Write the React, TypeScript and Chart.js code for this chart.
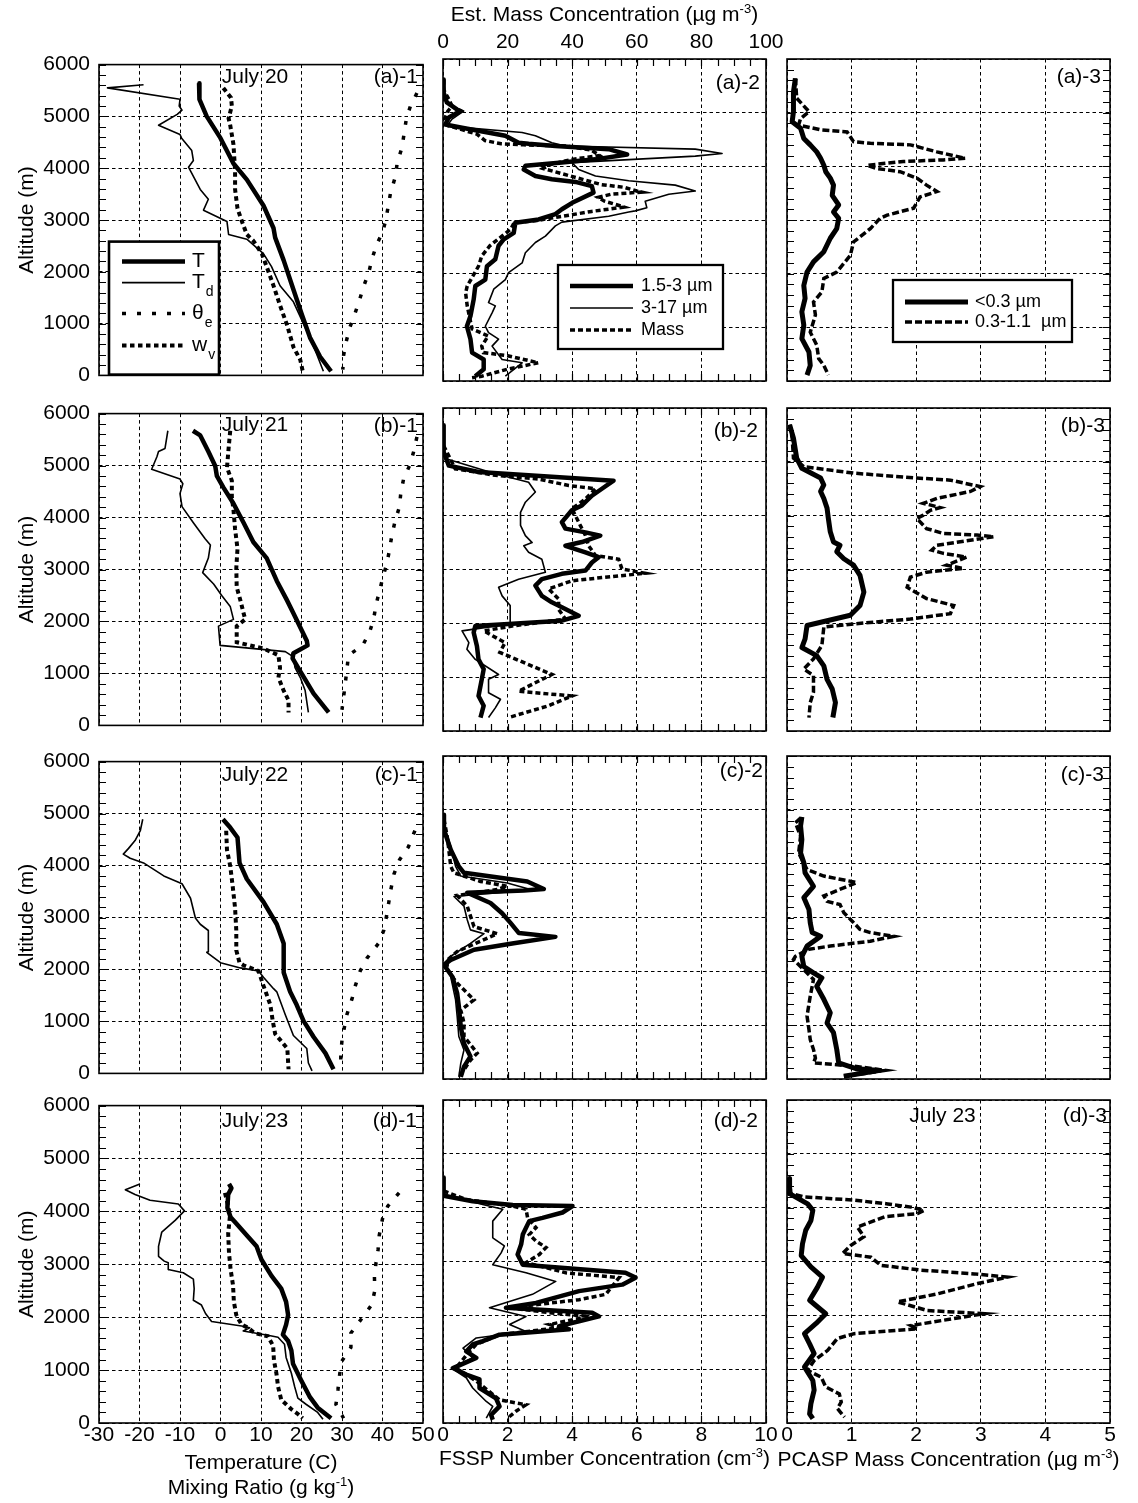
import React, { useEffect, useRef } from "react";
import { Chart, registerables } from "chart.js";

Chart.register(...registerables);

type Pt = [number, number]; // [altitude (m), value]

// ---------------- Axes ----------------
const ALT_AXIS = { min: 0, max: 6000, step: 1000, minor: 200 };
const MET_AXIS = { min: -30, max: 50, step: 10 };
const FSSP_AXIS = { min: 0, max: 10, step: 2, minor: 0.5 };
const MASS_AXIS = { min: 0, max: 100, step: 20 };
const PCASP_AXIS = { min: 0, max: 5, step: 1 };

// ---------------- July 20 (a) ----------------
const aT: Pt[] = [[5640,-5.3],[5330,-5.2],[5000,-3.4],[4580,0.0],[4090,3.2],[3780,6.5],[3280,10.6],[2840,13.1],[2660,13.5],[2220,15.6],[1660,18.0],[1170,20.1],[730,22.1],[360,24.6],[80,27.3]];
const aTd: Pt[] = [[5610,-19.0],[5550,-27.9],[5330,-10.0],[5200,-10.2],[5120,-9.5],[5040,-10.7],[4830,-15.3],[4650,-10.0],[4580,-9.6],[4340,-7.1],[4150,-6.7],[4020,-7.9],[3590,-5.0],[3400,-3.0],[3190,-4.2],[2970,1.6],[2720,2.0],[2630,6.5],[2350,10.6],[2100,12.6],[1730,14.7],[1420,18.0],[860,21.3],[480,23.4],[80,25.4]];
const aWv: Pt[] = [[5550,0.7],[5360,2.6],[5200,2.8],[4960,2.0],[4830,2.4],[4460,3.2],[3960,3.6],[3590,3.6],[3220,4.2],[2970,5.3],[2720,6.5],[2600,8.1],[2350,10.2],[2100,11.4],[1730,13.1],[1350,14.7],[980,16.4],[550,18.0],[300,19.7],[80,20.3]];
const aThe: Pt[] = [[5450,48.5],[5200,46.9],[4960,45.9],[4650,45.3],[4400,44.8],[4090,43.6],[3840,43.2],[3530,42.0],[3310,41.5],[3030,40.9],[2780,40.1],[2530,38.6],[2250,37.4],[1980,36.6],[1730,35.4],[1450,34.3],[1170,33.1],[920,31.9],[670,31.1],[390,30.4],[110,30.2]];
const aFine: Pt[] = [[5620,0.02],[5370,0.02],[5190,0.12],[5060,0.43],[5030,0.54],[4910,0.18],[4780,0.07],[4720,0.59],[4570,1.93],[4440,2.34],[4420,2.65],[4380,3.48],[4320,5.13],[4220,5.70],[4130,4.72],[4070,3.68],[4010,2.55],[3940,2.50],[3820,2.86],[3760,3.37],[3710,4.10],[3630,4.61],[3510,4.66],[3320,4.00],[3200,3.68],[3110,3.48],[3010,2.96],[2950,2.24],[2760,2.19],[2640,1.88],[2520,1.72],[2270,1.62],[2140,1.36],[1890,1.31],[1770,1.00],[1520,0.95],[1210,0.85],[1020,0.74],[780,0.85],[530,0.90],[400,1.26],[220,1.26],[90,1.00]];
const aCoarse: Pt[] = [[5560,0.02],[5250,0.07],[5120,0.28],[5030,0.64],[4880,0.28],[4750,0.12],[4630,2.45],[4570,2.86],[4440,3.37],[4380,3.79],[4320,7.81],[4240,8.64],[4190,7.81],[4070,3.99],[3940,4.20],[3820,4.72],[3730,5.75],[3650,7.19],[3540,7.81],[3480,6.99],[3350,6.26],[3230,6.31],[3170,5.95],[3150,5.75],[3070,5.13],[2960,3.68],[2890,3.48],[2700,3.17],[2580,2.86],[2390,2.55],[2200,2.45],[2020,2.03],[1890,1.93],[1710,1.57],[1460,1.41],[1400,1.62],[1270,1.52],[1020,1.31],[900,1.41],[780,1.72],[650,1.52],[400,1.83],[340,2.45],[90,1.93]];
const aMass: Pt[] = [[5620,0.2],[5430,0.2],[5250,1.8],[5120,2.8],[5030,1.5],[4880,0.5],[4760,1.5],[4600,10.5],[4480,13.0],[4420,18],[4400,25],[4380,38],[4300,46],[4200,48.5],[4130,40],[4030,33],[3960,31],[3660,49],[3610,56],[3540,60],[3520,61.5],[3480,52],[3420,48],[3350,50],[3280,54],[3240,56],[3160,46],[3050,35],[2990,29],[2950,22],[2830,21],[2640,17],[2520,14.5],[2330,12],[2140,11],[1770,7.5],[1640,7],[1400,7.5],[970,9],[840,14],[650,12],[530,12.5],[470,20],[340,29.5],[220,20],[90,12],[60,9]];
const aSmall: Pt[] = [[5640,0.13],[5390,0.10],[5020,0.10],[4830,0.08],[4710,0.21],[4520,0.26],[4400,0.36],[4270,0.46],[4150,0.52],[4020,0.57],[3900,0.60],[3780,0.67],[3650,0.72],[3460,0.70],[3280,0.80],[3150,0.72],[3030,0.80],[2840,0.77],[2660,0.67],[2410,0.57],[2220,0.41],[2030,0.31],[1780,0.26],[1540,0.28],[1290,0.23],[1040,0.26],[790,0.23],[540,0.34],[290,0.36],[110,0.31]];
const aAcc: Pt[] = [[5640,0.13],[5270,0.15],[5020,0.34],[4890,0.21],[4770,0.18],[4680,0.52],[4640,0.93],[4460,1.03],[4430,1.29],[4400,1.91],[4270,2.32],[4150,2.76],[4120,2.42],[4090,1.80],[4020,1.24],[3960,1.39],[3900,1.75],[3780,2.01],[3650,2.16],[3530,2.32],[3430,2.06],[3220,1.96],[3090,1.55],[3030,1.44],[2840,1.29],[2590,1.03],[2340,0.98],[2030,0.77],[1910,0.57],[1660,0.54],[1470,0.41],[1230,0.44],[910,0.36],[670,0.46],[420,0.49],[290,0.57],[110,0.64]];

// ---------------- July 21 (b) ----------------
const bT: Pt[] = [[5670,-6.8],[5580,-5.0],[5270,-3.0],[4990,-1.3],[4800,-0.9],[4580,0.7],[4270,3.2],[3900,5.7],[3530,8.1],[3220,11.4],[2780,13.9],[2410,16.4],[2160,18.0],[1630,21.3],[1540,21.5],[1390,18.0],[1290,17.8],[1040,19.7],[610,23.0],[250,26.7]];
const bTd: Pt[] = [[5670,-13.0],[5330,-13.7],[5270,-15.3],[5170,-15.7],[4930,-17.0],[4740,-10.0],[4650,-9.3],[4460,-10.0],[4210,-9.5],[3900,-6.7],[3590,-3.8],[3470,-2.5],[3220,-3.0],[2940,-4.4],[2720,-1.7],[2500,0.3],[2290,2.4],[2040,3.2],[1910,-0.5],[1540,-0.1],[1420,16.0],[1320,18.0],[1110,18.4],[920,19.7],[670,20.9],[250,21.7]];
const bWv: Pt[] = [[5670,2.4],[5330,2.0],[4960,1.6],[4710,2.8],[4400,2.8],[4150,3.2],[3780,3.6],[3400,4.2],[3030,3.9],[2660,4.0],[2410,4.9],[2160,5.7],[2040,6.1],[1910,4.0],[1600,4.0],[1480,10.6],[1350,14.3],[1110,14.7],[920,14.3],[670,15.6],[480,16.8],[250,16.8]];
const bThe: Pt[] = [[5550,48.5],[5270,47.7],[5020,46.8],[4740,45.2],[4460,44.5],[4210,44.2],[3930,43.1],[3650,42.3],[3370,41.7],[3120,41.1],[2880,40.2],[2600,39.3],[2320,38.4],[2040,37.8],[1790,36.8],[1540,35.1],[1350,31.6],[1070,31.2],[800,30.8],[550,30.4],[300,30.0]];
const bFine: Pt[] = [[5680,0.02],[5180,0.02],[4930,0.18],[4810,1.10],[4750,2.65],[4650,5.28],[4500,4.92],[4370,4.61],[4190,4.30],[4100,3.99],[3880,3.68],[3760,3.79],[3690,4.41],[3630,4.87],[3510,4.30],[3440,3.79],[3320,4.41],[3230,4.82],[3130,4.61],[2980,4.41],[2920,3.68],[2820,3.06],[2700,2.86],[2510,3.06],[2390,3.37],[2300,3.68],[2140,4.20],[2050,3.68],[1950,1.00],[1830,0.95],[1580,1.05],[1330,1.10],[1150,1.26],[960,1.20],[650,1.10],[470,1.26],[250,1.16]];
const bCoarse: Pt[] = [[5060,0.07],[4780,1.62],[4620,2.65],[4440,2.86],[4250,2.55],[4060,2.40],[3820,2.40],[3630,2.55],[3500,2.76],[3440,2.50],[3320,2.65],[3190,3.06],[2950,3.17],[2820,2.34],[2670,1.72],[2510,1.83],[2330,2.08],[1990,2.08],[1860,0.59],[1640,0.80],[1520,0.74],[1330,1.00],[1050,1.72],[960,1.41],[710,1.41],[590,1.78],[430,1.62],[250,1.41]];
const bMass: Pt[] = [[5300,0.2],[4870,3.8],[4750,16.2],[4680,29.6],[4560,38.9],[4500,47.2],[4310,44.1],[4130,39.9],[3820,42.5],[3630,44.1],[3440,45.1],[3260,47.2],[3190,54.4],[3010,55.4],[2930,62.6],[2850,49.2],[2790,39.9],[2640,32.7],[2450,35.8],[2260,35.8],[2080,37.9],[1950,21.4],[1860,12.6],[1640,19.2],[1460,17.6],[1050,33.7],[740,23.4],[650,39.9],[470,32.7],[250,20.3]];
const bSmall: Pt[] = [[5690,0.04],[5440,0.10],[5070,0.15],[4880,0.23],[4700,0.52],[4570,0.57],[4450,0.52],[4320,0.57],[4140,0.62],[3950,0.64],[3700,0.67],[3510,0.72],[3450,0.82],[3330,0.77],[3200,0.88],[3080,1.03],[2890,1.13],[2580,1.19],[2330,1.13],[2150,0.98],[1960,0.31],[1710,0.28],[1550,0.23],[1400,0.46],[1210,0.57],[960,0.62],[780,0.70],[530,0.75],[250,0.71]];
const bAcc: Pt[] = [[5690,0.04],[5440,0.08],[5070,0.10],[4910,0.26],[4790,1.03],[4700,2.01],[4660,2.53],[4540,2.99],[4450,2.84],[4320,2.32],[4230,2.11],[4150,2.37],[4100,2.22],[4010,2.11],[3950,2.01],[3760,2.16],[3670,2.42],[3640,2.94],[3610,3.20],[3450,2.32],[3360,2.24],[3300,2.42],[3230,2.78],[3080,2.47],[3020,2.73],[2950,2.16],[2860,1.91],[2670,1.86],[2460,2.16],[2330,2.58],[2180,2.53],[2080,1.91],[1990,1.03],[1930,0.57],[1590,0.54],[1340,0.41],[1150,0.26],[1030,0.41],[720,0.41],[530,0.36],[250,0.34]];

// ---------------- July 22 (c) ----------------
const cT: Pt[] = [[4890,0.6],[4730,2.4],[4540,4.2],[4050,4.7],[3740,6.5],[3300,10.6],[2870,13.9],[2500,15.6],[2130,15.6],[1940,15.6],[1570,17.2],[1320,18.8],[1010,20.5],[700,23.0],[390,25.9],[80,27.9]];
const cTd: Pt[] = [[4890,-19.2],[4670,-19.8],[4480,-21.1],[4330,-22.7],[4220,-24.0],[4140,-22.3],[4050,-19.0],[3800,-14.0],[3650,-9.5],[3370,-7.4],[2990,-6.2],[2870,-5.0],[2750,-3.0],[2340,-3.0],[2330,-3.4],[2130,0.0],[2030,4.9],[1970,9.4],[1850,10.6],[1630,13.1],[1570,13.9],[1130,16.0],[730,18.0],[480,21.3],[200,21.7],[50,22.6]];
const cWv: Pt[] = [[4670,1.4],[4300,1.6],[3990,2.4],[3610,3.0],[3180,3.6],[2750,3.9],[2370,3.9],[2130,4.7],[2080,5.7],[1970,9.4],[1690,10.6],[1320,12.3],[1010,12.9],[760,13.5],[610,15.1],[480,16.5],[80,16.8]];
const cThe: Pt[] = [[4670,48.0],[4360,46.4],[4110,44.2],[3830,42.8],[3550,42.1],[3270,41.5],[3030,41.0],[2750,40.3],[2500,39.0],[2220,36.2],[1970,34.5],[1690,33.3],[1440,32.5],[1130,31.2],[890,30.6],[640,30.0],[360,29.7],[80,29.7]];
const cFine: Pt[] = [[4910,0.01],[4630,0.03],[4260,0.24],[3950,0.49],[3830,0.65],[3670,2.61],[3530,3.12],[3500,2.50],[3460,0.75],[3270,1.47],[3080,1.83],[2900,2.09],[2710,2.35],[2640,3.48],[2520,2.19],[2400,0.96],[2210,0.24],[2120,0.03],[1900,0.29],[1590,0.44],[1350,0.49],[970,0.55],[660,0.65],[420,0.85],[230,0.65],[40,0.55]];
const cCoarse: Pt[] = [[4700,0.03],[4320,0.24],[3950,0.39],[3770,0.55],[3640,1.99],[3520,2.71],[3470,1.88],[3390,0.34],[3210,0.65],[2960,0.75],[2770,0.85],[2700,1.27],[2520,0.85],[2280,0.24],[2150,0.03],[1900,0.24],[1470,0.39],[1160,0.44],[790,0.49],[540,0.65],[290,0.55],[40,0.49]];
const cMass: Pt[] = [[4820,0.3],[4510,1.3],[3950,2.4],[3830,3.4],[3670,11.6],[3580,19.9],[3520,16.8],[3410,4.4],[3210,7.5],[2830,9.6],[2700,16.8],[2590,12.7],[2370,4.4],[2210,1.3],[2030,1.3],[1780,4.4],[1470,9.6],[1280,5.5],[1040,6.5],[790,6.5],[480,10.6],[350,8.5],[170,6.5]];
const cSmall: Pt[] = [[4870,0.23],[4700,0.21],[4450,0.23],[4200,0.21],[4020,0.26],[3830,0.28],[3580,0.41],[3370,0.26],[3150,0.34],[2900,0.36],[2720,0.39],[2650,0.52],[2470,0.31],[2280,0.23],[2090,0.26],[1970,0.41],[1880,0.54],[1720,0.46],[1480,0.57],[1230,0.67],[1040,0.62],[860,0.72],[550,0.77],[300,0.80],[190,1.08],[160,1.44],[50,0.88]];
const cAcc: Pt[] = [[4850,0.21],[4760,0.13],[4510,0.21],[4200,0.18],[3890,0.31],[3770,0.57],[3650,1.08],[3400,0.57],[3300,0.62],[3240,0.82],[3090,0.88],[2930,1.01],[2780,1.13],[2720,1.29],[2650,1.65],[2560,1.29],[2470,0.67],[2410,0.34],[2280,0.13],[2220,0.10],[2030,0.26],[1850,0.41],[1540,0.36],[1170,0.31],[920,0.34],[730,0.36],[550,0.41],[390,0.44],[300,0.41],[240,1.03],[160,1.52],[110,1.24],[50,0.88]];

// ---------------- July 23 (d) ----------------
const dT: Pt[] = [[4520,2.1],[4440,2.7],[4320,1.9],[4070,1.7],[3890,2.5],[3770,3.9],[3520,6.8],[3340,8.9],[3090,10.1],[2780,12.6],[2540,15.0],[2290,16.2],[2040,16.7],[1860,16.2],[1670,15.4],[1550,16.7],[1370,17.5],[1120,17.9],[810,19.9],[500,22.0],[290,24.0],[90,27.3]];
const dTd: Pt[] = [[4520,-19.9],[4410,-23.5],[4320,-21.1],[4210,-17.4],[4140,-10.4],[4010,-8.9],[3830,-11.2],[3610,-14.5],[3340,-15.3],[3150,-15.3],[3060,-13.9],[3030,-12.9],[2900,-12.9],[2840,-9.2],[2720,-6.7],[2540,-6.5],[2320,-6.7],[2230,-4.7],[2070,-3.7],[1920,-2.2],[1830,5.6],[1800,7.2],[1740,5.6],[1660,11.7],[1620,14.2],[1490,15.8],[1240,16.2],[940,17.5],[690,18.3],[470,19.1],[350,21.2],[200,24.0],[70,25.3]];
const dWv: Pt[] = [[4350,1.1],[4100,1.9],[3890,2.3],[3580,1.9],[3210,2.1],[2900,2.5],[2600,3.1],[2290,3.3],[2040,3.9],[1860,5.2],[1800,6.8],[1700,8.4],[1640,11.7],[1460,13.0],[1180,13.2],[940,13.8],[690,14.2],[440,15.0],[260,17.5],[170,19.1],[90,20.3]];
const dThe: Pt[] = [[4350,44.1],[4100,41.3],[3860,40.0],[3550,39.2],[3270,38.9],[3030,38.4],[2780,38.0],[2500,38.1],[2230,37.3],[1980,34.9],[1700,32.2],[1430,32.2],[1150,29.8],[900,29.4],[630,29.0],[350,28.5],[90,30.4]];
const dFine: Pt[] = [[4560,0.02],[4220,0.02],[4120,0.92],[4050,2.16],[4030,4.01],[3910,3.70],[3810,3.08],[3750,2.67],[3500,2.47],[3320,2.42],[3130,2.31],[2940,2.47],[2790,5.65],[2700,5.96],[2570,5.55],[2450,4.21],[2230,2.88],[2140,1.95],[2050,4.62],[1980,4.83],[1890,4.21],[1800,3.60],[1740,3.91],[1640,1.75],[1520,1.23],[1460,0.92],[1330,0.72],[1210,1.03],[1020,0.31],[900,0.72],[810,1.13],[650,1.13],[460,1.64],[310,1.75],[150,1.49],[60,1.54]];
const dCoarse: Pt[] = [[4250,0.02],[4060,1.23],[3970,1.85],[3750,1.54],[3440,1.54],[3290,1.90],[3160,1.80],[2940,1.54],[2790,2.57],[2630,3.49],[2390,2.77],[2140,1.44],[1980,2.57],[1830,2.06],[1700,2.57],[1580,1.03],[1390,0.62],[1210,0.92],[1020,0.26],[840,0.72],[650,0.92],[400,1.34],[310,1.54],[90,1.34]];
const dMass: Pt[] = [[4310,0.2],[4150,7.2],[4030,21.6],[3970,25.7],[3810,26.2],[3630,28.8],[3500,26.7],[3380,28.8],[3260,31.9],[3130,29.8],[2980,25.7],[2790,38.0],[2700,54.5],[2390,50.4],[2290,42.1],[2140,20.6],[2050,32.9],[1980,45.2],[1830,32.9],[1770,36.0],[1640,17.5],[1460,10.3],[1330,8.2],[1020,4.0],[780,10.3],[430,17.5],[340,25.7],[220,22.6],[90,20.0]];
const dSmall: Pt[] = [[4540,0.04],[4260,0.04],[4070,0.32],[3950,0.40],[3760,0.37],[3580,0.29],[3330,0.24],[3110,0.22],[2900,0.37],[2710,0.55],[2520,0.47],[2280,0.35],[2030,0.60],[1850,0.45],[1660,0.27],[1470,0.35],[1290,0.42],[1040,0.27],[790,0.40],[610,0.42],[360,0.37],[170,0.35],[80,0.40]];
const dAcc: Pt[] = [[4540,0.04],[4260,0.06],[4200,0.27],[4140,1.04],[4070,1.56],[4010,1.92],[3950,2.12],[3890,2.02],[3830,1.51],[3640,1.09],[3460,1.19],[3300,0.99],[3150,0.86],[3080,1.30],[2930,1.45],[2840,2.07],[2770,2.90],[2710,3.41],[2590,2.95],[2400,2.33],[2250,1.71],[2090,2.17],[2030,3.05],[1910,2.43],[1810,1.92],[1750,2.02],[1660,1.04],[1570,0.78],[1350,0.63],[1160,0.42],[980,0.32],[850,0.53],[670,0.60],[540,0.81],[390,0.84],[270,0.78],[110,0.89]];

// ---------------- styles & layout ----------------
const FONT = '"Liberation Sans", Arial, Helvetica, sans-serif';

type StyleKey = "T" | "Td" | "Wv" | "The" | "Fine" | "Coarse" | "Mass" | "Small" | "Acc";
const STYLES: Record<StyleKey, { width: number; dash: number[] }> = {
  T: { width: 4.5, dash: [] },
  Td: { width: 1.6, dash: [] },
  Wv: { width: 4, dash: [4.5, 3.5] },
  The: { width: 3.5, dash: [4, 11] },
  Fine: { width: 4.5, dash: [] },
  Coarse: { width: 1.6, dash: [] },
  Mass: { width: 3.5, dash: [5, 3] },
  Small: { width: 5, dash: [] },
  Acc: { width: 3.5, dash: [7, 3] },
};

const COLS = [
  { left: 99, width: 324 },
  { left: 443, width: 323 },
  { left: 787, width: 323 },
];
const ROWS = [
  { top: 59, height: 322 },
  { top: 408, height: 323 },
  { top: 756, height: 323 },
  { top: 1100, height: 323 },
];
const PAGE_W = 1138;
const PAGE_H = 1503;

type LegendItem = { style: StyleKey; label: string; sub?: string };
type LegendDef = {
  dx: number; dy: number; w: number; h: number; border: number;
  x1: number; x2: number; tx: number; size: number; rows: number[];
  items: LegendItem[];
};

const LEG_MET: LegendDef = {
  dx: 10, dy: 177, w: 110, h: 133, border: 2.6, x1: 13, x2: 76, tx: 83, size: 21,
  rows: [20, 41, 72, 104],
  items: [
    { style: "T", label: "T" },
    { style: "Td", label: "T", sub: "d" },
    { style: "The", label: "θ", sub: "e" },
    { style: "Wv", label: "w", sub: "v" },
  ],
};
const LEG_FSSP: LegendDef = {
  dx: 115, dy: 206, w: 165, h: 84, border: 2.3, x1: 12, x2: 75, tx: 83, size: 18,
  rows: [21, 43, 65],
  items: [
    { style: "Fine", label: "1.5-3 µm" },
    { style: "Coarse", label: "3-17 µm" },
    { style: "Mass", label: "Mass" },
  ],
};
const LEG_PCASP: LegendDef = {
  dx: 106, dy: 221, w: 179, h: 62, border: 2.3, x1: 12, x2: 75, tx: 82, size: 18,
  rows: [22, 42],
  items: [
    { style: "Small", label: "<0.3 µm" },
    { style: "Acc", label: "0.3-1.1  µm" },
  ],
};

type PanelDef = {
  row: number; col: number; tag: string; tagDx: number; tagDy: number;
  date?: string; dateDy?: number;
  series: [StyleKey, Pt[]][];
  legend?: LegendDef;
};

const PANELS: PanelDef[] = [
  { row: 0, col: 0, tag: "(a)-1", tagDx: 5, tagDy: 13, date: "July 20", dateDy: 13, series: [["Wv", aWv], ["The", aThe], ["Td", aTd], ["T", aT]], legend: LEG_MET },
  { row: 0, col: 1, tag: "(a)-2", tagDx: 6, tagDy: 24, series: [["Mass", aMass], ["Coarse", aCoarse], ["Fine", aFine]], legend: LEG_FSSP },
  { row: 0, col: 2, tag: "(a)-3", tagDx: 9, tagDy: 18, series: [["Acc", aAcc], ["Small", aSmall]], legend: LEG_PCASP },
  { row: 1, col: 0, tag: "(b)-1", tagDx: 5, tagDy: 13, date: "July 21", dateDy: 12, series: [["Wv", bWv], ["The", bThe], ["Td", bTd], ["T", bT]] },
  { row: 1, col: 1, tag: "(b)-2", tagDx: 8, tagDy: 23, series: [["Mass", bMass], ["Coarse", bCoarse], ["Fine", bFine]] },
  { row: 1, col: 2, tag: "(b)-3", tagDx: 5, tagDy: 18, series: [["Acc", bAcc], ["Small", bSmall]] },
  { row: 2, col: 0, tag: "(c)-1", tagDx: 5, tagDy: 14, date: "July 22", dateDy: 14, series: [["Wv", cWv], ["The", cThe], ["Td", cTd], ["T", cT]] },
  { row: 2, col: 1, tag: "(c)-2", tagDx: 3, tagDy: 15, series: [["Mass", cMass], ["Coarse", cCoarse], ["Fine", cFine]] },
  { row: 2, col: 2, tag: "(c)-3", tagDx: 6, tagDy: 19, series: [["Acc", cAcc], ["Small", cSmall]] },
  { row: 3, col: 0, tag: "(d)-1", tagDx: 6, tagDy: 16, date: "July 23", dateDy: 16, series: [["Wv", dWv], ["The", dThe], ["Td", dTd], ["T", dT]] },
  { row: 3, col: 1, tag: "(d)-2", tagDx: 8, tagDy: 21, series: [["Mass", dMass], ["Coarse", dCoarse], ["Fine", dFine]] },
  { row: 3, col: 2, tag: "(d)-3", tagDx: 3, tagDy: 16, date: "July 23", dateDy: 16, series: [["Acc", dAcc], ["Small", dSmall]] },
];

function geom(p: PanelDef) {
  const c = COLS[p.col];
  const r = ROWS[p.row];
  const topAxis = p.row === 0 && p.col === 1;
  const padL = p.col === 0 ? c.left : 12;
  const padR = p.col === 1 ? 22 : 16;
  const padT = topAxis ? r.top : 16;
  const padB = p.row === 3 ? PAGE_H - (r.top + r.height) : 16;
  return {
    topAxis, padL, padR, padT, padB,
    cl: c.left - padL, ct: r.top - padT,
    cw: c.width + padL + padR, ch: r.height + padT + padB,
  };
}

function drawLegend(ctx: CanvasRenderingContext2D, area: any, lg: LegendDef) {
  const x0 = area.left + lg.dx;
  const y0 = area.top + lg.dy;
  ctx.save();
  ctx.fillStyle = "#fff";
  ctx.fillRect(x0, y0, lg.w, lg.h);
  ctx.strokeStyle = "#000";
  ctx.lineWidth = lg.border;
  ctx.setLineDash([]);
  ctx.strokeRect(x0, y0, lg.w, lg.h);
  lg.items.forEach((it, i) => {
    const yy = y0 + lg.rows[i];
    const st = STYLES[it.style];
    ctx.lineWidth = st.width;
    ctx.lineCap = "butt";
    ctx.setLineDash(st.dash);
    ctx.beginPath();
    ctx.moveTo(x0 + lg.x1, yy);
    ctx.lineTo(x0 + lg.x2, yy);
    ctx.stroke();
    ctx.setLineDash([]);
    ctx.fillStyle = "#000";
    ctx.textAlign = "left";
    ctx.textBaseline = "middle";
    ctx.font = `${lg.size}px ${FONT}`;
    ctx.fillText(it.label, x0 + lg.tx, yy);
    if (it.sub) {
      const w = ctx.measureText(it.label).width;
      ctx.font = `14px ${FONT}`;
      ctx.fillText(it.sub, x0 + lg.tx + w + 1, yy + 10);
    }
  });
  ctx.restore();
}

function makeDeco(p: PanelDef) {
  return {
    id: "deco",
    beforeDatasetsDraw(chart: any) {
      const { ctx, chartArea: a } = chart;
      const xs = chart.scales.x;
      const ys = chart.scales.y;
      ctx.save();
      ctx.strokeStyle = "#000";
      ctx.setLineDash([]);
      ctx.lineWidth = 1.2;
      ctx.beginPath();
      if (p.col !== 1) {
        for (let v = ALT_AXIS.min; v <= ALT_AXIS.max; v += ALT_AXIS.minor) {
          const py = Math.round(ys.getPixelForValue(v)) + 0.5;
          ctx.moveTo(a.left, py);
          ctx.lineTo(a.left + 7, py);
          ctx.moveTo(a.right, py);
          ctx.lineTo(a.right - 7, py);
        }
      } else {
        for (let v = FSSP_AXIS.min; v <= FSSP_AXIS.max + 1e-9; v += FSSP_AXIS.minor) {
          const px = Math.round(xs.getPixelForValue(v)) + 0.5;
          ctx.moveTo(px, a.top);
          ctx.lineTo(px, a.top + 7);
          ctx.moveTo(px, a.bottom);
          ctx.lineTo(px, a.bottom - 7);
        }
      }
      ctx.stroke();
      ctx.lineWidth = 1.6;
      ctx.strokeRect(a.left, a.top, a.right - a.left, a.bottom - a.top);
      ctx.restore();
    },
    afterDatasetsDraw(chart: any) {
      const { ctx, chartArea: a } = chart;
      ctx.save();
      ctx.fillStyle = "#000";
      ctx.font = `21px ${FONT}`;
      ctx.textBaseline = "middle";
      ctx.textAlign = "right";
      ctx.fillText(p.tag, a.right - p.tagDx, a.top + p.tagDy);
      if (p.date) {
        ctx.textAlign = "center";
        ctx.fillText(p.date, (a.left + a.right) / 2 - 6, a.top + (p.dateDy || 13));
      }
      ctx.restore();
      if (p.legend) drawLegend(ctx, a, p.legend);
    },
  };
}

function buildConfig(p: PanelDef, g: ReturnType<typeof geom>): any {
  const axis = p.col === 0 ? MET_AXIS : p.col === 1 ? FSSP_AXIS : PCASP_AXIS;
  const tickFont = { family: FONT, size: 21 };
  const datasets = p.series.map(([key, pts]) => ({
    label: key,
    data: pts.map(([alt, v]) => ({ x: v, y: alt })),
    xAxisID: key === "Mass" ? "xm" : "x",
    yAxisID: "y",
    showLine: true,
    borderColor: "#000",
    backgroundColor: "#000",
    borderWidth: STYLES[key].width,
    borderDash: STYLES[key].dash,
    borderCapStyle: "butt",
    borderJoinStyle: STYLES[key].dash.length ? "miter" : "round",
    pointRadius: 0,
    pointHoverRadius: 0,
    tension: 0,
    fill: false,
  }));

  const scales: any = {
    x: {
      type: "linear",
      position: "bottom",
      min: axis.min,
      max: axis.max,
      ticks: {
        display: p.row === 3,
        stepSize: axis.step,
        autoSkip: false,
        maxRotation: 0,
        minRotation: 0,
        padding: 0,
        color: "#000",
        font: tickFont,
        callback: (v: number) => String(v),
      },
      grid: { color: "#000", lineWidth: 1, drawTicks: false },
      border: { display: false, dash: [3.5, 3] },
      afterFit: (s: any) => { s.height = g.padB; },
    },
    y: {
      type: "linear",
      position: "left",
      min: ALT_AXIS.min,
      max: ALT_AXIS.max,
      ticks: {
        display: p.col === 0,
        stepSize: ALT_AXIS.step,
        padding: 9,
        color: "#000",
        font: tickFont,
        callback: (v: number) => String(v),
      },
      grid: { color: "#000", lineWidth: 1, drawTicks: false },
      border: { display: false, dash: [3.5, 3] },
      title: {
        display: p.col === 0,
        text: "Altitude (m)",
        color: "#000",
        font: tickFont,
        padding: { top: 15, bottom: 0 },
      },
      afterFit: (s: any) => { s.width = g.padL; },
    },
  };
  if (p.col === 1) {
    scales.xm = {
      type: "linear",
      position: "top",
      display: g.topAxis,
      min: MASS_AXIS.min,
      max: MASS_AXIS.max,
      ticks: {
        stepSize: MASS_AXIS.step,
        autoSkip: false,
        maxRotation: 0,
        minRotation: 0,
        padding: 4,
        color: "#000",
        font: tickFont,
        callback: (v: number) => String(v),
      },
      grid: { display: false, drawTicks: false },
      border: { display: false },
    };
    if (g.topAxis) scales.xm.afterFit = (s: any) => { s.height = g.padT; };
  }

  return {
    type: "scatter",
    data: { datasets },
    options: {
      responsive: false,
      maintainAspectRatio: false,
      animation: false,
      devicePixelRatio: 1,
      events: [],
      layout: { padding: { left: 0, right: g.padR, top: g.topAxis ? 0 : g.padT, bottom: 0 } },
      plugins: { legend: { display: false }, tooltip: { enabled: false } },
      scales,
    },
    plugins: [makeDeco(p)],
  };
}

function Panel({ p }: { p: PanelDef }) {
  const ref = useRef<HTMLCanvasElement>(null);
  const g = geom(p);
  useEffect(() => {
    const chart = new Chart(ref.current as HTMLCanvasElement, buildConfig(p, g));
    return () => chart.destroy();
  }, []);
  return (
    <canvas
      ref={ref}
      width={g.cw}
      height={g.ch}
      style={{ position: "absolute", left: g.cl, top: g.ct, width: g.cw, height: g.ch }}
    />
  );
}

function Label({ cx, cy, children }: { cx: number; cy: number; children: React.ReactNode }) {
  return (
    <div
      style={{
        position: "absolute",
        left: cx - 300,
        top: cy - 13,
        width: 600,
        height: 26,
        lineHeight: "26px",
        textAlign: "center",
        fontFamily: FONT,
        fontSize: 21,
        color: "#000",
        whiteSpace: "nowrap",
      }}
    >
      {children}
    </div>
  );
}

const supStyle: React.CSSProperties = { fontSize: 13, lineHeight: 0, verticalAlign: "0.6em" };

export default function App() {
  const c1 = COLS[0].left + COLS[0].width / 2;
  const c2 = COLS[1].left + COLS[1].width / 2;
  const c3 = COLS[2].left + COLS[2].width / 2;
  return (
    <div style={{ position: "absolute", left: 0, top: 0, width: PAGE_W, height: PAGE_H, background: "#fff", overflow: "hidden" }}>
      {PANELS.map((p) => (
        <Panel key={p.tag} p={p} />
      ))}
      <Label cx={c2} cy={14}>
        Est. Mass Concentration (µg m<sup style={supStyle}>-3</sup>)
      </Label>
      <Label cx={c1} cy={1462}>Temperature (C)</Label>
      <Label cx={c1} cy={1487}>
        Mixing Ratio (g kg<sup style={supStyle}>-1</sup>)
      </Label>
      <Label cx={c2} cy={1458}>
        FSSP Number Concentration (cm<sup style={supStyle}>-3</sup>)
      </Label>
      <Label cx={c3} cy={1459}>
        PCASP Mass Concentration (µg m<sup style={supStyle}>-3</sup>)
      </Label>
    </div>
  );
}
